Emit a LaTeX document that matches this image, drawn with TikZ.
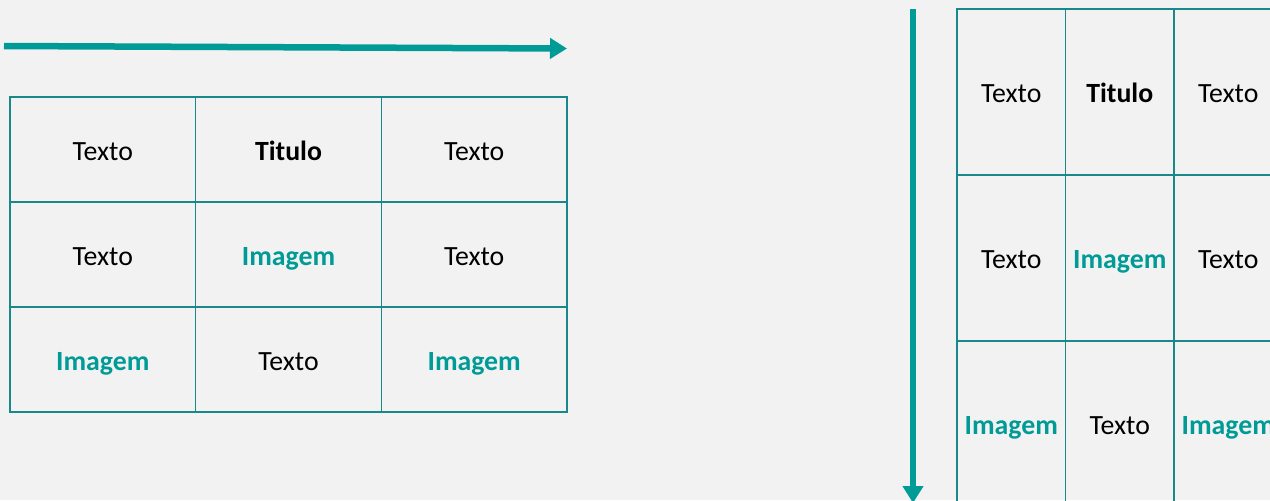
\documentclass[tikz,border=0pt]{standalone}
\usepackage{fontspec}
\setmainfont{Carlito}
\usetikzlibrary{arrows.meta}
\definecolor{bgGray}{HTML}{F2F2F2}
\definecolor{tealMain}{HTML}{009B96}
\definecolor{tealLine}{HTML}{18888A}

\begin{document}
\begin{tikzpicture}[x=0.5pt, y=-0.5pt]
    \tikzstyle{grid cell} = [rectangle,draw=tealLine,line width=0.8pt,inner sep=0pt,text height=10.5pt,text depth=0pt,font=\fontsize{13.9}{16}\selectfont]
    \tikzstyle{wide cell} = [grid cell, minimum width=92.83pt, minimum height=52.5pt]
    \tikzstyle{tall cell} = [grid cell, minimum width=54.25pt, minimum height=83pt]
    \tikzstyle{cell title} = [font=\fontsize{13.9}{16}\selectfont\bfseries]
    \tikzstyle{cell image} = [cell title, text=tealMain]
    \tikzstyle{flow arrow} = [draw=tealMain, line width=3.25pt, -{Triangle[length=8.5pt,width=10pt]}]
\useasboundingbox (0,0) rectangle (1270,500);
\clip (0,0) rectangle (1270,500);
\fill[bgGray] (0,0) rectangle (1270,500);
% horizontal layout
\node[wide cell] (h11) at (102.8, 149.5) {Texto};
\node[wide cell, cell title] (h12) at (288.5, 149.5) {Titulo};
\node[wide cell] (h13) at (474.2, 149.5) {Texto};
\node[wide cell] (h21) at (102.8, 254.5) {Texto};
\node[wide cell, cell image] (h22) at (288.5, 254.5) {Imagem};
\node[wide cell] (h23) at (474.2, 254.5) {Texto};
\node[wide cell, cell image] (h31) at (102.8, 359.5) {Imagem};
\node[wide cell] (h32) at (288.5, 359.5) {Texto};
\node[wide cell, cell image] (h33) at (474.2, 359.5) {Imagem};
% vertical layout
\node[tall cell] (v11) at (1011.25, 92) {Texto};
\node[tall cell, cell title] (v12) at (1119.75, 92) {Titulo};
\node[tall cell] (v13) at (1228.25, 92) {Texto};
\node[tall cell] (v21) at (1011.25, 258) {Texto};
\node[tall cell, cell image] (v22) at (1119.75, 258) {Imagem};
\node[tall cell] (v23) at (1228.25, 258) {Texto};
\node[tall cell, cell image] (v31) at (1011.25, 424) {Imagem};
\node[tall cell] (v32) at (1119.75, 424) {Texto};
\node[tall cell, cell image] (v33) at (1228.25, 424) {Imagem};
% reading direction
\coordinate (hstart) at (4, 46);
\coordinate (hend) at (567, 48.5);
\coordinate (vstart) at (913, 9);
\coordinate (vend) at (913, 503);
\draw[flow arrow] (hstart) -- (hend);
\draw[flow arrow] (vstart) -- (vend);
\end{tikzpicture}
\end{document}
